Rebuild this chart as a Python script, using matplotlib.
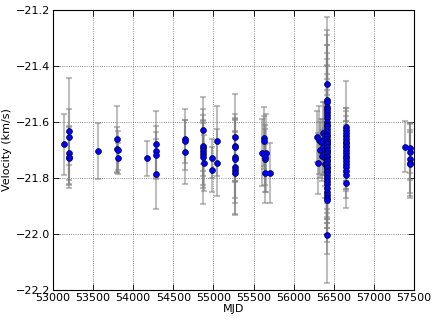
import numpy as np
import matplotlib
matplotlib.use('Agg')
import matplotlib.pyplot as plt

# radial velocity measurements, grouped by observing season
mjd = [
    # 2004
    53140, 53195, 53195, 53197, 53197, 53199,
    # 2005
    53567,
    53803, 53803, 53805, 53805,
    # 2007
    54168,
    54288, 54288, 54290, 54290,
    # 2008
    54640, 54642, 54645,
    # 2009
    54872, 54872, 54874, 54874, 54875, 54876, 54877,
    54979, 54979, 55046, 55046,
    # 2010
    55270, 55270, 55271, 55271, 55272, 55272, 55273, 55273,
    # 2011
    55600, 55630, 55635, 55650, 55640, 55645, 55645, 55708,
    # 2013 (first part)
    56296, 56305, 56317, 56330, 56346, 56355, 56365, 56370, 56380, 56385, 56390, 56395,
    # 2013 (dense run)
    56410, 56410, 56411, 56411, 56412, 56412, 56413, 56413, 56414, 56414,
    56410, 56411, 56412, 56413, 56414, 56415, 56416, 56417, 56418, 56419,
    56410, 56411, 56412, 56413, 56414, 56415, 56416, 56417, 56418, 56419,
    56410, 56411, 56412, 56413, 56414, 56415, 56416, 56417, 56418, 56419,
    56412, 56414,
    # 2013 late
    56654, 56655, 56656, 56657, 56655, 56656, 56657, 56654, 56655, 56656,
    56657, 56655, 56656, 56654, 56655, 56656, 56657, 56655, 56656,
    # 2016
    57393, 57447, 57447, 57449, 57450, 57450,
]

vel = [
    -21.680, -21.632, -21.654, -21.712, -21.724, -21.730,
    -21.704,
    -21.662, -21.698, -21.701, -21.730,
    -21.730,
    -21.680, -21.704, -21.719, -21.787,
    -21.662, -21.669, -21.707,
    -21.629, -21.686, -21.692, -21.704, -21.715, -21.724, -21.745,
    -21.730, -21.771, -21.668, -21.745,
    -21.655, -21.685, -21.690, -21.724, -21.733, -21.760, -21.771, -21.783,
    -21.710, -21.658, -21.668, -21.710, -21.731, -21.724, -21.783, -21.781,
    -21.652, -21.748, -21.664, -21.700, -21.670, -21.720, -21.640, -21.690, -21.660, -21.750, -21.700, -21.730,
    -21.464, -21.520, -21.530, -21.545, -21.555, -21.565, -21.575, -21.585, -21.600, -21.610,
    -21.615, -21.625, -21.635, -21.645, -21.650, -21.660, -21.668, -21.675, -21.680, -21.690,
    -21.700, -21.705, -21.710, -21.720, -21.725, -21.735, -21.740, -21.750, -21.760, -21.765,
    -21.775, -21.780, -21.790, -21.800, -21.810, -21.820, -21.835, -21.850, -21.860, -21.870,
    -21.880, -22.004,
    -21.619, -21.630, -21.640, -21.650, -21.660, -21.670, -21.675, -21.685, -21.690, -21.700,
    -21.710, -21.720, -21.730, -21.740, -21.750, -21.760, -21.775, -21.790, -21.817,
    -21.688, -21.694, -21.706, -21.733, -21.745, -21.750,
]

err = [
    0.110, 0.190, 0.100, 0.095, 0.110, 0.095,
    0.100,
    0.120, 0.080, 0.070, 0.055,
    0.063,
    0.120, 0.090, 0.085, 0.125,
    0.110, 0.076, 0.114,
    0.120, 0.090, 0.100, 0.130, 0.110, 0.170, 0.100,
    0.070, 0.080, 0.125, 0.120,
    0.155, 0.100, 0.120, 0.090, 0.140, 0.170, 0.120, 0.150,
    0.120, 0.110, 0.090, 0.140, 0.120, 0.100, 0.105, 0.107,
    0.090, 0.110, 0.120, 0.100, 0.080, 0.090, 0.110, 0.100, 0.130, 0.120, 0.080, 0.100,
    0.240, 0.250, 0.240, 0.220, 0.230, 0.210, 0.200, 0.190, 0.200, 0.180,
    0.170, 0.160, 0.150, 0.140, 0.130, 0.120, 0.110, 0.100, 0.120, 0.130,
    0.140, 0.150, 0.160, 0.120, 0.110, 0.100, 0.130, 0.140, 0.150, 0.160,
    0.170, 0.180, 0.190, 0.200, 0.150, 0.120, 0.110, 0.130, 0.140, 0.200,
    0.150, 0.170,
    0.165, 0.080, 0.090, 0.070, 0.100, 0.060, 0.080, 0.090, 0.070, 0.080,
    0.060, 0.090, 0.080, 0.070, 0.090, 0.080, 0.070, 0.080, 0.090,
    0.090, 0.089, 0.100, 0.130, 0.110, 0.120,
]

plt.rcParams['xtick.direction'] = 'in'
plt.rcParams['ytick.direction'] = 'in'
plt.rcParams['xtick.top'] = True
plt.rcParams['ytick.right'] = True
plt.rcParams['font.size'] = 8

fig = plt.figure(figsize=(4.36, 3.23), dpi=100)
ax = fig.add_axes([0.1216, 0.1022, 0.8279, 0.8668])

# error bars first (light gray), then the markers on top
ax.errorbar(mjd, vel, yerr=err, fmt='none', ecolor='gray', alpha=0.5,
            elinewidth=1.5, capsize=2.5, capthick=1.5, zorder=2)
ax.plot(mjd, vel, 'o', color='blue', markersize=4.2,
        markeredgecolor='#000040', markeredgewidth=0.5, zorder=3)

ax.set_xlim(53000, 57500)
ax.set_ylim(-22.2, -21.2)
ax.set_xticks(np.arange(53000, 57501, 500))
ax.set_yticks(np.arange(-22.2, -21.19, 0.2))
ax.set_xlabel('MJD', labelpad=1)
ax.set_ylabel('Velocity (km/s)', labelpad=3)
ax.grid(True, linestyle=':', color='k', linewidth=0.6, alpha=0.6)
ax.tick_params(length=4, width=0.6, pad=2)

fig.savefig('out.png', dpi=100)
